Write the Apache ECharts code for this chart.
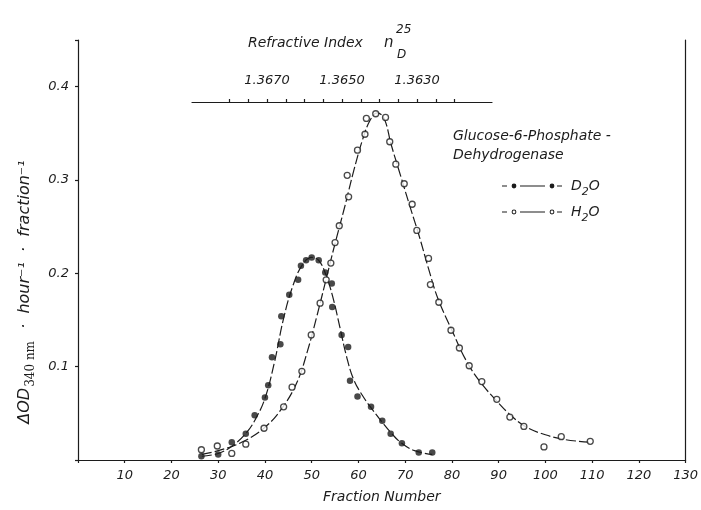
<!DOCTYPE html>
<html>
<head>
<meta charset="utf-8">
<script src="https://cdn.jsdelivr.net/npm/echarts@6/dist/echarts.min.js"></script>
<style>html,body{margin:0;padding:0;background:#fff;}#c{width:701px;height:510px;}</style>
</head>
<body>
<div id="c"></div>
<script>
// ---- data ----
var d2oFraction = [26.4, 30.0, 32.9, 35.9, 37.8, 40.0, 40.7, 41.5, 43.3, 43.5, 45.2, 47.1, 47.7, 48.8, 50.0, 51.5, 52.9, 54.3, 54.4, 56.4, 57.8, 58.2, 59.8, 62.7, 65.1, 66.9, 69.3, 72.9, 75.8];
var d2oValue    = [0.004, 0.006, 0.019, 0.028, 0.048, 0.067, 0.080, 0.110, 0.124, 0.154, 0.177, 0.193, 0.208, 0.214, 0.217, 0.214, 0.201, 0.189, 0.164, 0.134, 0.121, 0.085, 0.068, 0.057, 0.042, 0.028, 0.018, 0.008, 0.008];

var h2oFraction = [26.4, 29.8, 32.9, 35.9, 39.8, 44.0, 45.8, 47.9, 49.9, 51.8, 53.1, 54.1, 55.0, 55.9, 57.9, 57.6, 59.8, 61.4, 61.7, 63.7, 65.8, 66.7, 68.0, 69.8, 71.5, 72.5, 75.0, 75.4, 77.2, 79.8, 81.6, 83.7, 86.4, 89.6, 92.4, 95.4, 99.7, 103.4, 109.6];
var h2oValue    = [0.011, 0.015, 0.007, 0.017, 0.034, 0.057, 0.078, 0.095, 0.134, 0.168, 0.193, 0.211, 0.233, 0.251, 0.282, 0.305, 0.332, 0.349, 0.366, 0.371, 0.367, 0.341, 0.317, 0.296, 0.274, 0.246, 0.216, 0.188, 0.169, 0.139, 0.120, 0.101, 0.084, 0.065, 0.046, 0.036, 0.014, 0.025, 0.020];

// hand-drawn fitted curves
var d2oCurveFraction = [26.5, 30, 33, 36, 38, 40, 42, 44, 46, 48, 50, 51.5, 53, 54.5, 56, 57.5, 59, 61, 63, 65, 67, 69, 72, 75.8];
var d2oCurveValue    = [0.004, 0.007, 0.015, 0.029, 0.044, 0.066, 0.104, 0.152, 0.187, 0.209, 0.217, 0.214, 0.199, 0.175, 0.143, 0.110, 0.086, 0.068, 0.054, 0.041, 0.029, 0.019, 0.010, 0.006];

var h2oCurveFraction = [26.5, 30, 35, 40, 44, 47, 49, 51, 53, 55, 57, 59, 61, 62.5, 64, 65.5, 67, 69, 71, 73, 75, 77, 80, 83, 86, 90, 93, 96, 100, 104, 109.6];
var h2oCurveValue    = [0.006, 0.010, 0.019, 0.035, 0.058, 0.085, 0.115, 0.152, 0.192, 0.232, 0.270, 0.310, 0.345, 0.364, 0.372, 0.366, 0.338, 0.305, 0.272, 0.240, 0.205, 0.173, 0.139, 0.107, 0.084, 0.061, 0.046, 0.035, 0.027, 0.022, 0.019];

var fractionTicks = [10, 20, 30, 40, 50, 60, 70, 80, 90, 100, 110, 120, 130];
var odTicks = [0.1, 0.2, 0.3, 0.4];
var refIndexCategories = ['1.3690','1.3685','1.3680','1.3675','1.3670','1.3665','1.3660','1.3655','1.3650','1.3645','1.3640','1.3635','1.3630','1.3625','1.3620','1.3615','1.3610'];
var refIndexLabels = ['1.3670','1.3650','1.3630'];
var refIndexTickFrom = '1.3680', refIndexTickTo = '1.3620';
var seriesNames = ['D₂O', 'H₂O'];
var legendRich = {'D₂O': 'D{s|2}O', 'H₂O': 'H{s|2}O'};

function pairs(xs, ys){ return xs.map(function(x,i){ return [x, ys[i]]; }); }

var INK = '#1c1c1c';
var FONT = 'DejaVu Sans';
var ital = {fontFamily: FONT, fontStyle: 'italic', color: INK};

var iconD = 'path://M0,2.5h5v1h-5z M9.6,3a2.4,2.4 0 1,0 4.8,0a2.4,2.4 0 1,0 -4.8,0z M18,2.5h25v1h-25z M47.6,3a2.4,2.4 0 1,0 4.8,0a2.4,2.4 0 1,0 -4.8,0z M55,2.5h5v1h-5z';
var iconH = 'path://M0,2.5h5v1h-5z M9.6,3a2.4,2.4 0 1,0 4.8,0a2.4,2.4 0 1,0 -4.8,0z M10.6,3a1.4,1.4 0 1,1 2.8,0a1.4,1.4 0 1,1 -2.8,0z M18,2.5h25v1h-25z M47.6,3a2.4,2.4 0 1,0 4.8,0a2.4,2.4 0 1,0 -4.8,0z M48.6,3a1.4,1.4 0 1,1 2.8,0a1.4,1.4 0 1,1 -2.8,0z M55,2.5h5v1h-5z';

var iStart = refIndexCategories.indexOf(refIndexTickFrom), iEnd = refIndexCategories.indexOf(refIndexTickTo);

var chart = echarts.init(document.getElementById('c'), null, {renderer: 'canvas'});
chart.setOption({
  animation: false,
  backgroundColor: '#fff',
  grid: [
    {left: 78, right: 13, top: 40, bottom: 50},
    {left: 192, width: 300, top: 92, height: 10}
  ],
  xAxis: [
    {
      type: 'value', gridIndex: 0, min: 0, max: 130, interval: 10,
      axisLine: {lineStyle: {color: INK, width: 1.2}},
      axisTick: {length: 3, lineStyle: {color: INK, width: 1.2}},
      splitLine: {show: false},
      axisLabel: Object.assign({fontSize: 13, margin: 9, formatter: function(v){ return fractionTicks.indexOf(v) >= 0 ? String(v) : ''; }}, ital),
      name: 'Fraction Number', nameLocation: 'middle', nameGap: 30,
      nameTextStyle: Object.assign({fontSize: 14}, ital)
    },
    {
      type: 'category', gridIndex: 1, position: 'top', boundaryGap: false,
      data: refIndexCategories,
      axisLine: {lineStyle: {color: INK, width: 1.2}},
      axisTick: {length: 3, interval: function(i){ return i >= iStart && i <= iEnd; }, lineStyle: {color: INK, width: 1.2}},
      axisLabel: Object.assign({fontSize: 13, margin: 5, interval: function(i, v){ return refIndexLabels.indexOf(v) >= 0; }}, ital),
      splitLine: {show: false}
    }
  ],
  yAxis: [
    {
      type: 'value', gridIndex: 0, min: 0, max: 0.45, interval: 0.1,
      axisLine: {show: true, lineStyle: {color: INK, width: 1.2}},
      axisTick: {length: 3, lineStyle: {color: INK, width: 1.2}},
      splitLine: {show: false},
      axisLabel: Object.assign({fontSize: 13, margin: 9, formatter: function(v){
        for (var k = 0; k < odTicks.length; k++) { if (Math.abs(odTicks[k] - v) < 1e-9) return odTicks[k].toFixed(1); }
        return '';
      }}, ital)
    },
    {
      type: 'value', gridIndex: 0, position: 'right', min: 0, max: 0.45,
      axisLine: {show: true, lineStyle: {color: INK, width: 1.2}},
      axisTick: {show: false}, axisLabel: {show: false}, splitLine: {show: false}
    },
    {type: 'value', gridIndex: 1, show: false, min: 0, max: 1}
  ],
  legend: {
    orient: 'vertical', left: 497, top: 172, itemGap: 5,
    itemWidth: 60, itemHeight: 5,
    formatter: function(name){ return legendRich[name] || name; },
    textStyle: Object.assign({fontSize: 14, lineHeight: 18, padding: [0, 0, 0, 4],
      rich: {s: {fontFamily: FONT, fontStyle: 'italic', color: INK, fontSize: 11, verticalAlign: 'bottom', lineHeight: 18, padding: [0, 0, -3, 0]}}}, ital),
    data: [
      {name: seriesNames[0], icon: iconD, itemStyle: {color: INK, borderWidth: 0}},
      {name: seriesNames[1], icon: iconH, itemStyle: {color: INK, borderWidth: 0}}
    ]
  },
  graphic: [
    {type: 'text', left: 248, top: 36, style: {text: 'Refractive Index', font: 'italic 14px "DejaVu Sans"', fill: INK}},
    {type: 'text', left: 384, top: 36, style: {text: 'n', font: 'italic 15px "DejaVu Sans"', fill: INK}},
    {type: 'text', left: 396, top: 24, style: {text: '25', font: 'italic 12px "DejaVu Sans"', fill: INK}},
    {type: 'text', left: 397, top: 49, style: {text: 'D', font: 'italic 12px "DejaVu Sans"', fill: INK}},
    {type: 'text', left: 453, top: 129, style: {text: 'Glucose-6-Phosphate -', font: 'italic 14px "DejaVu Sans"', fill: INK}},
    {type: 'text', left: 453, top: 148, style: {text: 'Dehydrogenase', font: 'italic 14px "DejaVu Sans"', fill: INK}},
    {
      type: 'text', x: 25, y: 292, rotation: Math.PI / 2,
      style: {
        text: 'ΔOD{s|340 nm}  ·  hour⁻¹  ·  fraction⁻¹',
        fontFamily: FONT, fontStyle: 'italic', fontSize: 16, lineHeight: 24, fill: INK,
        align: 'center', verticalAlign: 'middle',
        rich: {s: {fontFamily: 'DejaVu Serif', fontStyle: 'normal', fontSize: 12, verticalAlign: 'bottom', lineHeight: 24, padding: [0, 2, 0, 1]}}
      }
    }
  ],
  series: [
    {
      name: seriesNames[0], type: 'line', xAxisIndex: 0, yAxisIndex: 0, data: pairs(d2oCurveFraction, d2oCurveValue),
      smooth: 0.4, showSymbol: false, symbol: 'none', silent: true,
      lineStyle: {color: INK, width: 1.2, type: [10, 3]}, z: 2
    },
    {
      name: seriesNames[1], type: 'line', xAxisIndex: 0, yAxisIndex: 0, data: pairs(h2oCurveFraction, h2oCurveValue),
      smooth: 0.4, showSymbol: false, symbol: 'none', silent: true,
      lineStyle: {color: INK, width: 1.2, type: [10, 3]}, z: 2
    },
    {
      name: seriesNames[0], type: 'scatter', xAxisIndex: 0, yAxisIndex: 0, data: pairs(d2oFraction, d2oValue),
      symbol: 'circle', symbolSize: 6.5, itemStyle: {color: INK}, z: 3
    },
    {
      name: seriesNames[1], type: 'scatter', xAxisIndex: 0, yAxisIndex: 0, data: pairs(h2oFraction, h2oValue),
      symbol: 'circle', symbolSize: 6, itemStyle: {color: '#fff', borderColor: INK, borderWidth: 1.3}, z: 3
    }
  ]
});
</script>
</body>
</html>
